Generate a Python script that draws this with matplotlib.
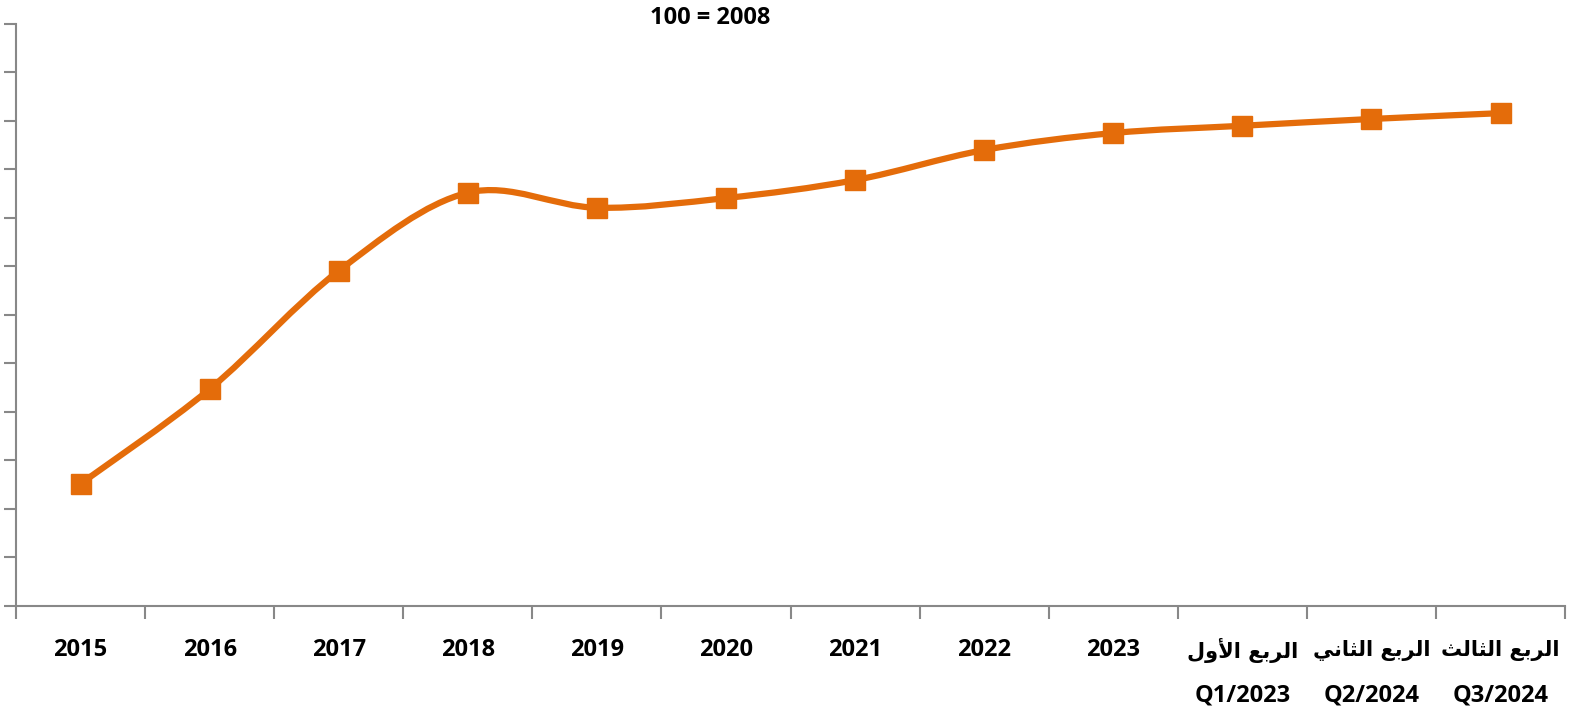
import matplotlib
matplotlib.use("Agg")
import matplotlib.pyplot as plt
from matplotlib.path import Path
from matplotlib.patches import PathPatch

# Data
categories = ["2015", "2016", "2017", "2018", "2019", "2020", "2021", "2022", "2023",
              "Q1/2023", "Q2/2024", "Q3/2024"]
# Arabic quarter names (shaped presentation forms, visual order)
ar_q1 = "\uFEDD\uFEED\uFEF7\uFE8D \uFECA\uFE91\uFEAE\uFEDF\uFE8D"           # الربع الأول
ar_q2 = "\uFEF2\uFEE7\uFE8E\uFE9C\uFEDF\uFE8D \uFECA\uFE91\uFEAE\uFEDF\uFE8D"  # الربع الثاني
ar_q3 = "\uFE9A\uFEDF\uFE8E\uFE9C\uFEDF\uFE8D \uFECA\uFE91\uFEAE\uFEDF\uFE8D"  # الربع الثالث
first_row = ["2015", "2016", "2017", "2018", "2019", "2020", "2021", "2022", "2023",
             ar_q1, ar_q2, ar_q3]
second_row = ["", "", "", "", "", "", "", "", "", "Q1/2023", "Q2/2024", "Q3/2024"]
values = [25.2, 44.7, 69.1, 85.2, 82.1, 84.1, 87.8, 94.0, 97.5, 99.0, 100.4, 101.6]
title = "100 = 2008"

W, H = 1581, 722
fig = plt.figure(figsize=(W / 100 + 0.001, H / 100 + 0.001), dpi=100)
ax = fig.add_axes([16 / W, (722 - 606) / H, (1565 - 16) / W, (606 - 24) / H])

color = "#E46C0A"
xs = list(range(len(values)))

# Excel-style smoothed line: cubic Bezier with tension 1/6
verts = [(xs[0], values[0])]
codes = [Path.MOVETO]
n = len(values)
for i in range(n - 1):
    p0 = (xs[max(i - 1, 0)], values[max(i - 1, 0)])
    p1 = (xs[i], values[i])
    p2 = (xs[i + 1], values[i + 1])
    p3 = (xs[min(i + 2, n - 1)], values[min(i + 2, n - 1)])
    c1 = (p1[0] + (p2[0] - p0[0]) / 6, p1[1] + (p2[1] - p0[1]) / 6)
    c2 = (p2[0] - (p3[0] - p1[0]) / 6, p2[1] - (p3[1] - p1[1]) / 6)
    verts += [c1, c2, p2]
    codes += [Path.CURVE4] * 3
ax.add_patch(PathPatch(Path(verts, codes), facecolor="none", edgecolor=color,
                       linewidth=4.5, capstyle="round", joinstyle="round", zorder=3))
ax.plot(xs, values, linestyle="none", marker="s", markersize=15,
        color=color, markeredgecolor=color, zorder=4)

ax.set_xlim(-0.5, n - 0.5)
ax.set_ylim(0, 120)
ax.set_yticks(range(0, 121, 10))
ax.set_yticklabels([])
ax.set_xticks([x - 0.5 for x in xs] + [n - 0.5])
ax.set_xticklabels([])
ax.tick_params(axis="x", which="major", length=9, width=1.5, color="#888888")
ax.tick_params(axis="y", which="major", length=9, width=1.5, color="#888888")
for s in ["top", "right"]:
    ax.spines[s].set_visible(False)
for s in ["left", "bottom"]:
    ax.spines[s].set_color("#888888")
    ax.spines[s].set_linewidth(1.5)

px = 0.72  # points per pixel at 100 dpi
for x, t1, t2 in zip(xs, first_row, second_row):
    is_ar = t2 != ""
    ax.annotate(t1, xy=(x, 0), xycoords=("data", "axes fraction"),
                xytext=(0, -44 * px), textcoords="offset points",
                ha="center", va="center", fontsize=15 if is_ar else 17,
                fontweight="bold", family=["DejaVu Sans"] if is_ar else ["Open Sans"],
                annotation_clip=False)
    if t2:
        ax.annotate(t2, xy=(x, 0), xycoords=("data", "axes fraction"),
                    xytext=(0, -89 * px), textcoords="offset points",
                    ha="center", va="center", fontsize=17, fontweight="bold",
                    family=["Open Sans"], annotation_clip=False)

fig.text(710 / W, 1 - 18 / H, title, ha="center", va="center", fontsize=17,
         fontweight="bold", family=["Open Sans", "DejaVu Sans"])

fig.savefig("out.png", dpi=100)
